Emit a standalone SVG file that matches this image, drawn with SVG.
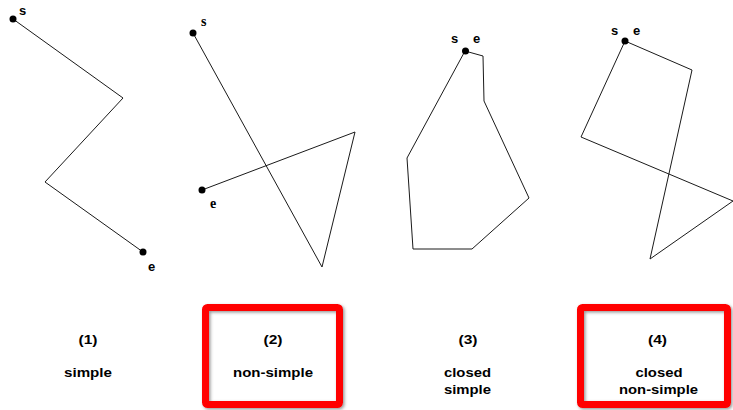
<svg xmlns="http://www.w3.org/2000/svg" width="733" height="410" viewBox="0 0 733 410">
<style>
.poly{fill:none;stroke:#1a1a1a;stroke-width:1;stroke-linejoin:miter}
.dot{fill:#000}
.pl{font-family:"Liberation Sans",Arial,sans-serif;font-weight:bold;font-size:13px;fill:#000}
.ps{font-family:"Liberation Serif","Times New Roman",serif;font-weight:bold;font-size:14px;fill:#000}
.lab{font-family:"Liberation Sans",Arial,sans-serif;font-weight:bold;font-size:13px;fill:#000;text-anchor:middle}
.box{fill:none;stroke:#ff0000;stroke-width:7;filter:url(#sh)}
</style>
<defs>
<filter id="sh" x="-10%" y="-10%" width="130%" height="130%">
<feDropShadow dx="1.5" dy="1.5" stdDeviation="1.5" flood-color="#555" flood-opacity="0.6"/>
</filter>
</defs>
<g id="connectors">
<polyline class="poly" points="13,19 123,98 45,182 143,252"/>
<polyline class="poly" points="193,33 322,267 355,132 202,190"/>
<polygon class="poly" points="465,51 407,158 413,249 472,249 529,198 484,101 483,56"/>
<polygon class="poly" points="625,41 692,70 650,259 733,201 581,137"/>
</g>
<g id="node1">
<circle class="dot" cx="13" cy="19" r="3.5"/>
<circle class="dot" cx="143" cy="252" r="3.5"/>
<text class="pl" x="19" y="15">s</text>
<text class="pl" x="148" y="271">e</text>
</g>
<g id="node2">
<circle class="dot" cx="193" cy="33" r="3.5"/>
<circle class="dot" cx="202" cy="190" r="3.5"/>
<text class="ps" x="201" y="26">s</text>
<text class="ps" x="210" y="208">e</text>
</g>
<g id="node3">
<circle class="dot" cx="465.5" cy="51" r="3.5"/>
<text class="pl" x="451" y="43">s</text>
<text class="pl" x="473" y="43">e</text>
</g>
<g id="node4">
<circle class="dot" cx="625" cy="41" r="3.5"/>
<text class="pl" x="611" y="35">s</text>
<text class="pl" x="633" y="35">e</text>
</g>
<g id="box2"><rect class="box" x="205.5" y="307.5" width="134" height="97" rx="2"/></g>
<g id="box4"><rect class="box" x="580.5" y="307.5" width="147" height="97" rx="2"/></g>
<g id="labels">
<text class="lab" x="88" y="344" textLength="19" lengthAdjust="spacingAndGlyphs">(1)</text>
<text class="lab" x="88" y="377" textLength="48" lengthAdjust="spacingAndGlyphs">simple</text>
<text class="lab" x="273" y="344" textLength="19" lengthAdjust="spacingAndGlyphs">(2)</text>
<text class="lab" x="273" y="377" textLength="80" lengthAdjust="spacingAndGlyphs">non-simple</text>
<text class="lab" x="468" y="344" textLength="19" lengthAdjust="spacingAndGlyphs">(3)</text>
<text class="lab" x="467.5" y="377" textLength="47" lengthAdjust="spacingAndGlyphs">closed</text>
<text class="lab" x="467.5" y="394" textLength="47" lengthAdjust="spacingAndGlyphs">simple</text>
<text class="lab" x="657.5" y="344" textLength="19" lengthAdjust="spacingAndGlyphs">(4)</text>
<text class="lab" x="659" y="377" textLength="47" lengthAdjust="spacingAndGlyphs">closed</text>
<text class="lab" x="658.5" y="394" textLength="79" lengthAdjust="spacingAndGlyphs">non-simple</text>
</g>
</svg>
